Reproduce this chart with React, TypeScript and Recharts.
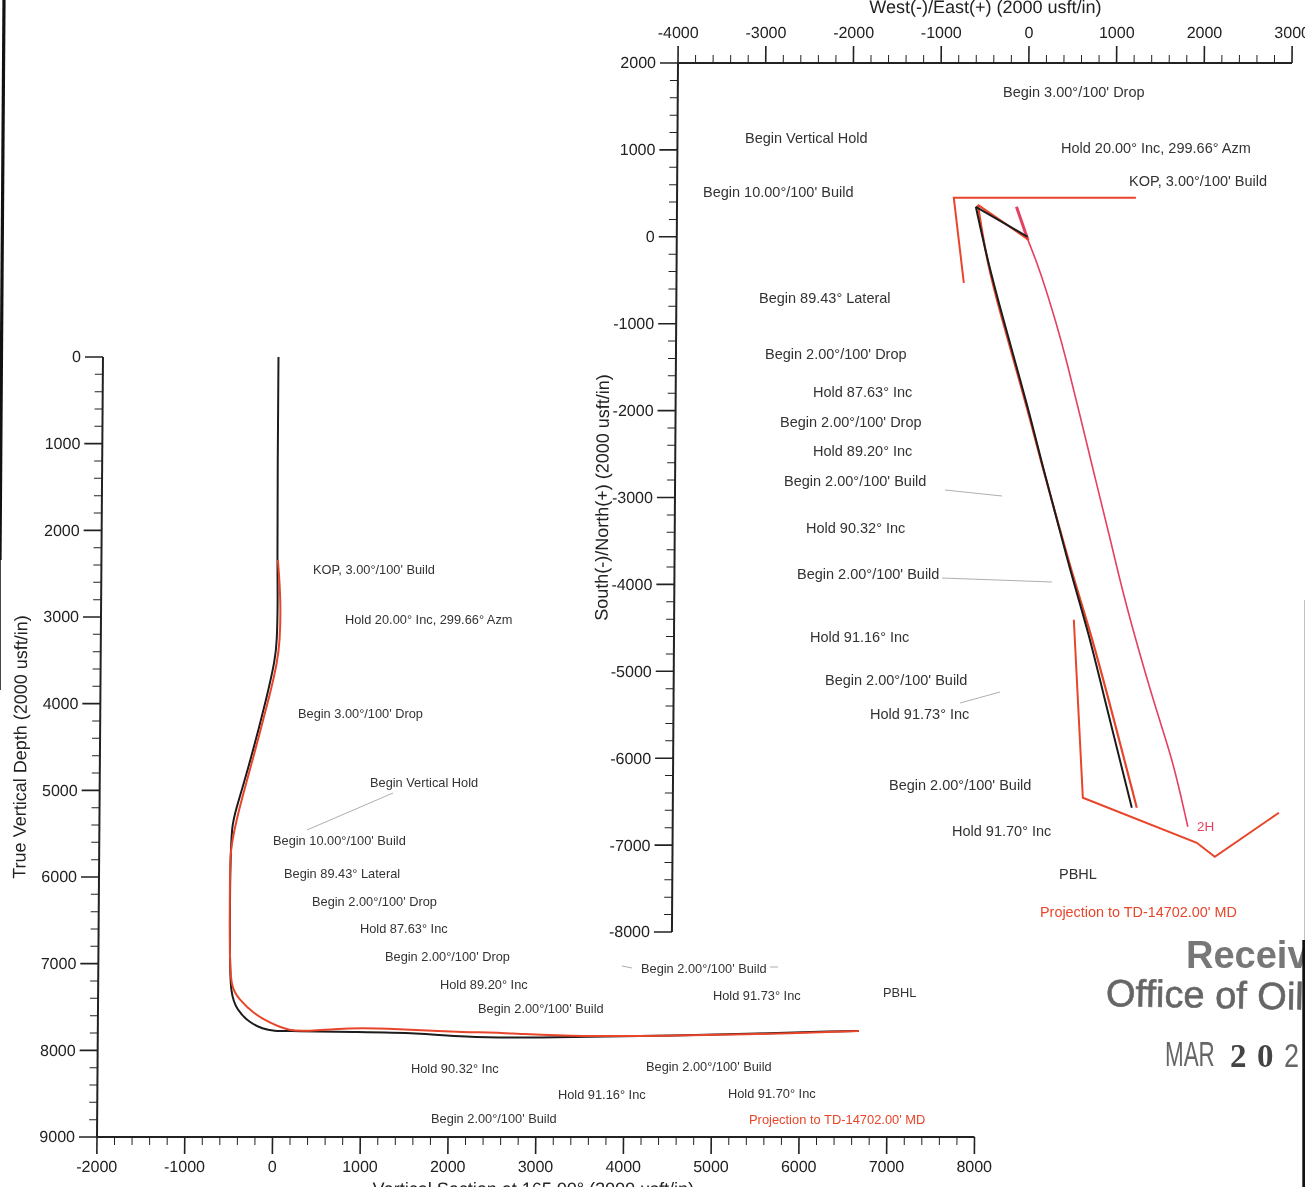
import React from 'react';
import { LineChart, Line, XAxis, YAxis } from 'recharts';

// left plot: vertical section (x) against true vertical depth (y)
const sectionPlan = [
  { x: 0, y: 0 }, { x: 0, y: 1200 }, { x: 5, y: 2446 }, { x: 14, y: 2804 }, { x: 7, y: 3300 }, { x: -14, y: 3496 },
  { x: -91, y: 3877 }, { x: -290, y: 4684 }, { x: -457, y: 5261 }, { x: -490, y: 5415 }, { x: -503, y: 5803 },
  { x: -506, y: 6265 }, { x: -501, y: 6958 }, { x: -490, y: 7338 }, { x: -420, y: 7534 }, { x: -268, y: 7684 },
  { x: -119, y: 7753 }, { x: -5, y: 7777 }, { x: 223, y: 7777 }, { x: 907, y: 7789 }, { x: 1671, y: 7800 },
  { x: 2127, y: 7846 }, { x: 2993, y: 7858 }, { x: 4155, y: 7835 }, { x: 5454, y: 7812 }, { x: 6445, y: 7777 },
  { x: 6673, y: 7777 },
];
const sectionSurvey = [
  { x: 11, y: 2342 }, { x: 49, y: 2804 }, { x: 41, y: 3300 }, { x: 9, y: 3531 }, { x: -46, y: 3808 },
  { x: -268, y: 4684 }, { x: -423, y: 5261 }, { x: -499, y: 5654 }, { x: -510, y: 5838 },
  { x: -505, y: 6842 }, { x: -491, y: 7281 }, { x: -383, y: 7419 }, { x: -234, y: 7569 }, { x: -40, y: 7685 },
  { x: 189, y: 7777 }, { x: 383, y: 7777 }, { x: 679, y: 7754 }, { x: 1021, y: 7742 }, { x: 1363, y: 7754 },
  { x: 2126, y: 7789 }, { x: 2696, y: 7800 }, { x: 3426, y: 7846 }, { x: 4873, y: 7823 }, { x: 5602, y: 7812 },
  { x: 6673, y: 7777 },
];

// right plot: west/east (x) against south/north (y)
const planKick = [{ x: 0, y: 0 }, { x: -593, y: 345 }];
const mapPlan = [
  { x: -593, y: 345 }, { x: -452, y: -288 }, { x: -276, y: -932 }, { x: -113, y: -1507 },
  { x: 39, y: -2048 }, { x: 191, y: -2647 }, { x: 367, y: -3291 }, { x: 531, y: -3912 }, { x: 717, y: -4522 },
  { x: 917, y: -5328 }, { x: 1233, y: -6571 },
];
const surveyKick = [{ x: 14, y: -35 }, { x: -570, y: 368 }];
const mapSurvey = [
  { x: -570, y: 368 }, { x: -463, y: -288 }, { x: -290, y: -932 }, { x: -125, y: -1507 },
  { x: 30, y: -2048 }, { x: 186, y: -2647 }, { x: 370, y: -3291 }, { x: 545, y: -3912 }, { x: 740, y: -4522 },
  { x: 962, y: -5328 }, { x: 1290, y: -6571 },
];
const offsetWellTop = [{ x: -130, y: 345 }, { x: 3, y: -35 }];
const offsetWell = [
  { x: 3, y: -35 }, { x: 142, y: -380 }, { x: 340, y: -1013 }, { x: 457, y: -1439 }, { x: 609, y: -2048 },
  { x: 785, y: -2762 }, { x: 968, y: -3487 }, { x: 1078, y: -3947 }, { x: 1230, y: -4522 }, { x: 1511, y: -5478 },
  { x: 1697, y: -6019 }, { x: 1873, y: -6789 },
];
const leaseNorth = [{ x: -724, y: -529 }, { x: -845, y: 449 }, { x: 1231, y: 449 }];
const leaseSouth = [
  { x: 557, y: -4407 }, { x: 674, y: -6455 }, { x: 1977, y: -6973 }, { x: 2183, y: -7135 }, { x: 2910, y: -6628 },
];

const range = (from: number, to: number) => {
  const out: number[] = [];
  for (let v = from; v <= to; v += 200) out.push(v);
  return out;
};
const sectionTicks = range(-2000, 8000);
const depthTicks = range(0, 9000);
const eastTicks = range(-4000, 3000);
const northTicks = range(-8000, 2000);

const leftNotes = [
  ["KOP, 3.00°/100' Build", 313, 569], ['Hold 20.00° Inc, 299.66° Azm', 345, 619],
  ["Begin 3.00°/100' Drop", 298, 713], ['Begin Vertical Hold', 370, 782],
  ["Begin 10.00°/100' Build", 273, 840], ['Begin 89.43° Lateral', 284, 873],
  ["Begin 2.00°/100' Drop", 312, 901], ['Hold 87.63° Inc', 360, 928],
  ["Begin 2.00°/100' Drop", 385, 956], ['Hold 89.20° Inc', 440, 984],
  ["Begin 2.00°/100' Build", 478, 1008], ["Begin 2.00°/100' Build", 641, 968],
  ['Hold 91.73° Inc', 713, 995], ['PBHL', 883, 992], ['Hold 90.32° Inc', 411, 1068],
  ["Begin 2.00°/100' Build", 646, 1066], ['Hold 91.16° Inc', 558, 1094],
  ['Hold 91.70° Inc', 728, 1093], ["Begin 2.00°/100' Build", 431, 1118],
] as [string, number, number][];

const rightNotes = [
  ["Begin 3.00°/100' Drop", 1003, 92], ['Begin Vertical Hold', 745, 138],
  ['Hold 20.00° Inc, 299.66° Azm', 1061, 148], ["KOP, 3.00°/100' Build", 1129, 181],
  ["Begin 10.00°/100' Build", 703, 192], ['Begin 89.43° Lateral', 759, 298],
  ["Begin 2.00°/100' Drop", 765, 354], ['Hold 87.63° Inc', 813, 392],
  ["Begin 2.00°/100' Drop", 780, 422], ['Hold 89.20° Inc', 813, 451],
  ["Begin 2.00°/100' Build", 784, 481], ['Hold 90.32° Inc', 806, 528],
  ["Begin 2.00°/100' Build", 797, 574], ['Hold 91.16° Inc', 810, 637],
  ["Begin 2.00°/100' Build", 825, 680], ['Hold 91.73° Inc', 870, 714],
  ["Begin 2.00°/100' Build", 889, 785], ['Hold 91.70° Inc', 952, 831], ['PBHL', 1059, 874],
] as [string, number, number][];

const leaders = [
  [307, 830, 393, 793], [622, 966, 632, 968], [770, 967, 778, 967],
  [945, 490, 1002, 496], [942, 578, 1052, 582], [960, 703, 1000, 692],
];

const FONT = '"Liberation Sans", Arial, sans-serif';
const INK = '#222';
const BLACK = '#1c1c1c';
const RED = '#e8452a';
const PINK = '#e5405f';

const BottomTick = ({ x, y, payload }: any) => {
  const major = payload.value % 1000 === 0;
  return (
    <g>
      <line x1={x} x2={x} y1={y} y2={y + (major ? 17 : 8)} stroke={INK} strokeWidth={major ? 1.6 : 1} />
      {major && <text x={x} y={y + 30} textAnchor="middle" dominantBaseline="central" fontSize={16} fontFamily={FONT} fill={INK}>{payload.value}</text>}
    </g>
  );
};

const TopTick = ({ x, y, payload }: any) => {
  const major = payload.value % 1000 === 0;
  return (
    <g>
      <line x1={x} x2={x} y1={y} y2={y - (major ? 17 : 8)} stroke={INK} strokeWidth={major ? 1.6 : 1} />
      {major && <text x={x} y={y - 30} textAnchor="middle" dominantBaseline="central" fontSize={16} fontFamily={FONT} fill={INK}>{payload.value}</text>}
    </g>
  );
};

const SideTick = ({ x, y, payload }: any) => {
  const major = payload.value % 1000 === 0;
  return (
    <g>
      <line x1={x} x2={x - (major ? 18 : 8)} y1={y} y2={y} stroke={INK} strokeWidth={major ? 1.6 : 1} />
      {major && <text x={x - 22} y={y} textAnchor="end" dominantBaseline="central" fontSize={16} fontFamily={FONT} fill={INK}>{payload.value}</text>}
    </g>
  );
};

const axisTitle = { fontSize: 18, fontFamily: FONT, fill: INK };
const wire = (color: string, width: number, curve: 'linear' | 'basis' = 'linear') => ({
  type: curve, dataKey: 'y', stroke: color, strokeWidth: width, dot: false, isAnimationActive: false,
});

export default function App() {
  return (
    <div style={{ position: 'absolute', left: 0, top: 0, width: 1305, height: 1187, overflow: 'hidden', background: '#fff', filter: 'blur(0.45px)' }}>
      {/* the scan is skewed a little, so each plot leans like the paper did */}
      <div style={{ position: 'absolute', left: 0, top: 0, transform: 'skewX(-0.44deg)', transformOrigin: '97px 1137px' }}>
        <LineChart width={1305} height={1187} margin={{ top: 357, right: 330.5, bottom: 0, left: 0 }}>
          <XAxis
            type="number" dataKey="x" domain={[-2000, 8000]} ticks={sectionTicks} interval={0} height={50}
            tickSize={0} tickMargin={0} tick={<BottomTick />} axisLine={{ stroke: INK, strokeWidth: 2 }}
            label={{ value: 'Vertical Section at 165.00° (2000 usft/in)', position: 'insideBottom', offset: -8, dx: -2, style: axisTitle }}
          />
          <YAxis
            type="number" dataKey="y" reversed domain={[0, 9000]} ticks={depthTicks} interval={0} width={97}
            tickSize={0} tickMargin={0} tick={<SideTick />} axisLine={{ stroke: INK, strokeWidth: 2 }}
            label={{ value: 'True Vertical Depth (2000 usft/in)', angle: -90, position: 'insideLeft', offset: 17, style: { ...axisTitle, textAnchor: 'middle' } }}
          />
          <Line {...wire(BLACK, 2, 'basis')} data={sectionPlan} />
          <Line {...wire(RED, 2, 'basis')} data={sectionSurvey} />
        </LineChart>
      </div>

      <div style={{ position: 'absolute', left: 0, top: 0, transform: 'skewX(-0.4deg)', transformOrigin: '678px 63px' }}>
        <LineChart width={1305} height={1187} margin={{ top: 0, right: 13, bottom: 255, left: 0 }}>
          <XAxis
            type="number" dataKey="x" orientation="top" domain={[-4000, 3000]} ticks={eastTicks} interval={0} height={63}
            tickSize={0} tickMargin={0} tick={<TopTick />} axisLine={{ stroke: INK, strokeWidth: 2 }}
            label={{ value: 'West(-)/East(+) (2000 usft/in)', position: 'insideTop', offset: 0, style: axisTitle }}
          />
          <YAxis
            type="number" dataKey="y" domain={[-8000, 2000]} ticks={northTicks} interval={0} width={678}
            tickSize={0} tickMargin={0} tick={<SideTick />} axisLine={{ stroke: INK, strokeWidth: 2 }}
            label={{ value: 'South(-)/North(+) (2000 usft/in)', angle: -90, position: 'insideLeft', offset: 605, style: { ...axisTitle, textAnchor: 'middle' } }}
          />
          <Line {...wire(RED, 2)} data={leaseNorth} />
          <Line {...wire(RED, 2)} data={leaseSouth} />
          <Line {...wire(PINK, 3)} data={offsetWellTop} />
          <Line {...wire(PINK, 1.6, 'basis')} data={offsetWell} />
          <Line {...wire(RED, 2.2)} data={surveyKick} />
          <Line {...wire(RED, 2.2, 'basis')} data={mapSurvey} />
          <Line {...wire(BLACK, 2)} data={planKick} />
          <Line {...wire(BLACK, 2, 'basis')} data={mapPlan} />
        </LineChart>
      </div>

      <svg width={1305} height={1187} style={{ position: 'absolute', left: 0, top: 0 }} fontFamily={FONT}>
        {leaders.map(([x1, y1, x2, y2], i) => (
          <line key={i} x1={x1} y1={y1} x2={x2} y2={y2} stroke="#999" strokeWidth={0.8} />
        ))}
        {leftNotes.map(([t, x, y], i) => (
          <text key={i} x={x} y={y} fontSize={12.8} fill="#333" dominantBaseline="central">{t}</text>
        ))}
        {rightNotes.map(([t, x, y], i) => (
          <text key={i} x={x} y={y} fontSize={14.5} fill="#333" dominantBaseline="central">{t}</text>
        ))}
        <text x={749} y={1119} fontSize={12.9} fill={RED} dominantBaseline="central">Projection to TD-14702.00' MD</text>
        <text x={1040} y={912} fontSize={14.4} fill={RED} dominantBaseline="central">Projection to TD-14702.00' MD</text>
        <text x={1197} y={826} fontSize={13.5} fill={PINK} dominantBaseline="central">2H</text>

        {/* receipt stamp, cut by the page edge */}
        <text x={1186} y={955} fontSize={38} fontWeight={700} fill="#777" dominantBaseline="central">Received</text>
        <text x={1106} y={993} fontSize={38} fill="#666" stroke="#666" strokeWidth={0.6} dominantBaseline="central" transform="rotate(1 1106 993)">Office of Oil</text>
        <text transform="translate(1165 1053) scale(0.64 1)" fontSize={35} fill="#666" dominantBaseline="central">MAR</text>
        <text x={1230} y={1056} fontSize={33} fontWeight={700} fontFamily='"Liberation Serif", serif' fill="#444" dominantBaseline="central">2</text>
        <text x={1257} y={1056} fontSize={33} fontWeight={700} fontFamily='"Liberation Serif", serif' fill="#444" dominantBaseline="central">0</text>
        <text transform="translate(1284 1056) scale(0.82 1)" fontSize={33} fill="#666" dominantBaseline="central">2</text>

        {/* dark scanner edges */}
        <line x1={4} y1={0} x2={0} y2={560} stroke="#111" strokeWidth={3.2} />
        <line x1={0.4} y1={560} x2={0.4} y2={690} stroke="#333" strokeWidth={1} />
        <line x1={1303.8} y1={940} x2={1303.8} y2={1187} stroke="#111" strokeWidth={3} />
        <line x1={1304.6} y1={600} x2={1304.6} y2={940} stroke="#bbb" strokeWidth={1} />
      </svg>
    </div>
  );
}
